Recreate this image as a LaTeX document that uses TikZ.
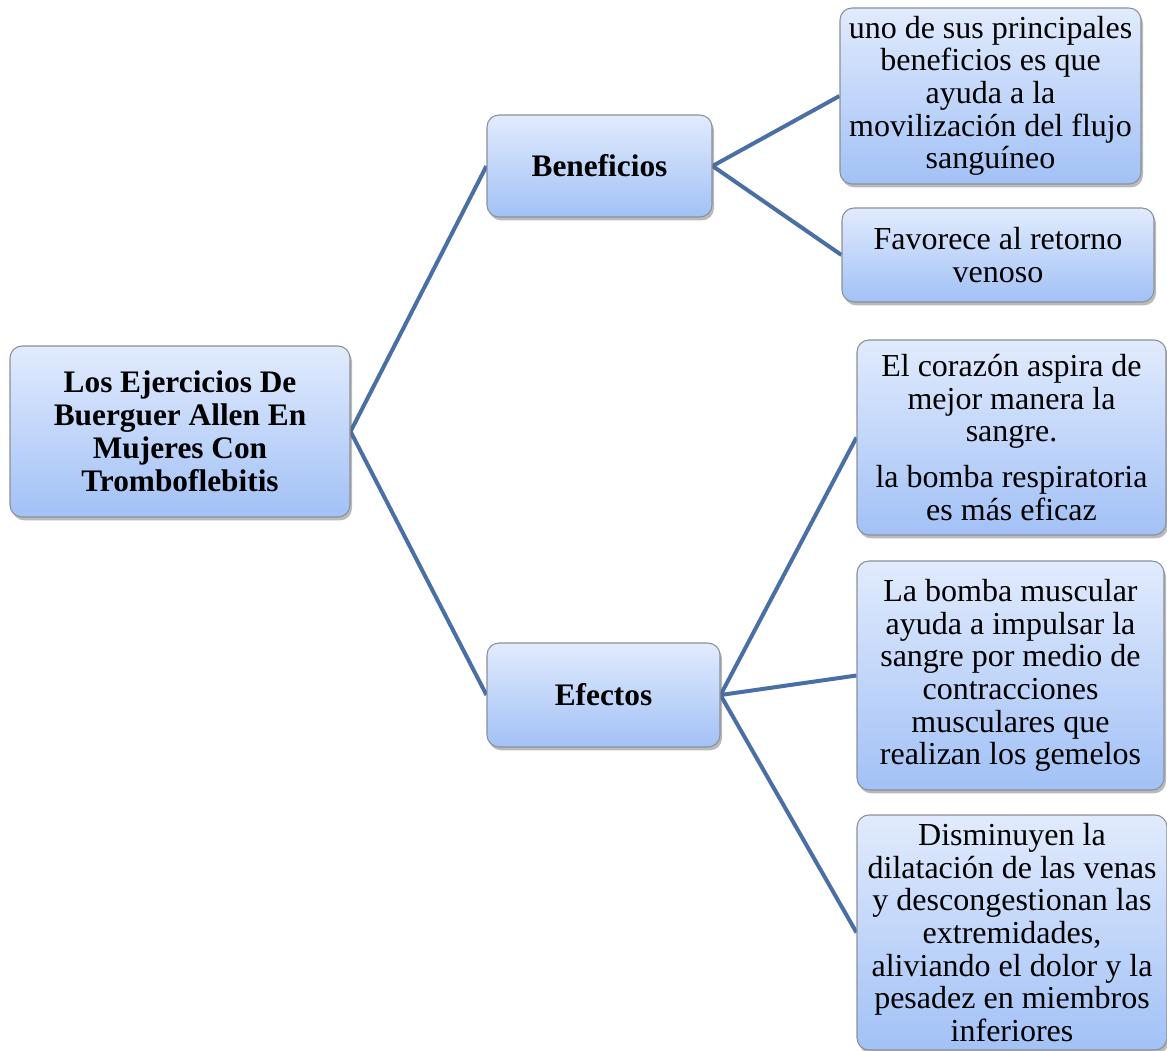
\documentclass[tikz,border=0pt]{standalone}
\usepackage{fontspec}
\setmainfont{Liberation Serif}
\usetikzlibrary{shadows,backgrounds}
\definecolor{linkblue}{HTML}{4A6FA5}
\definecolor{boxtop}{HTML}{E1EBFD}
\definecolor{boxbot}{HTML}{A2C1F6}
\definecolor{boxedge}{HTML}{8A8F99}
\tikzset{
  box/.style={draw=boxedge, line width=0.8pt, rounded corners=9pt,
    top color=boxtop, bottom color=boxbot, align=center, inner sep=2pt,
    font=\fontsize{24}{24.5}\selectfont,
    drop shadow={shadow xshift=1.5pt, shadow yshift=-2.5pt, opacity=0.45, fill=black!60}},
  bbox/.style={box, font=\fontsize{23.5}{24.75}\selectfont\bfseries},
  link/.style={draw=linkblue, line width=3pt}
}
\begin{document}
\begin{tikzpicture}[x=0.75pt, y=-0.75pt]
\useasboundingbox (0,0) rectangle (1167,1050);
\node[bbox, minimum width=255pt, minimum height=128.25pt] (root) at (180,431.5)
  {Los Ejercicios De\\Buerguer Allen En\\Mujeres Con\\Tromboflebitis};
\node[bbox, minimum width=168.75pt, minimum height=76.5pt] (ben) at (599.5,166) {Beneficios};
\node[bbox, minimum width=174.75pt, minimum height=78pt] (efe) at (603.5,695) {Efectos};
\node[box, minimum width=225.75pt, minimum height=132pt] (b1) at (990.5,96)
  {uno de sus principales\\beneficios es que\\ayuda a la\\movilización del flujo\\sanguíneo};
\node[box, minimum width=234pt, minimum height=70.5pt] (b2) at (998,255)
  {Favorece al retorno\\venoso};
\node[box, minimum width=231.75pt, minimum height=146.25pt] (e1) at (1011.5,437.5)
  {El corazón aspira de\\mejor manera la\\sangre.\\[10pt]la bomba respiratoria\\es más eficaz};
\node[box, minimum width=230.25pt, minimum height=171.75pt] (e2) at (1010.5,675.5)
  {La bomba muscular\\ayuda a impulsar la\\sangre por medio de\\contracciones\\musculares que\\realizan los gemelos};
\node[box, inner sep=0pt, minimum width=232.5pt, minimum height=176.25pt] (e3) at (1012,932.5)
  {Disminuyen la\\dilatación de las venas\\y descongestionan las\\extremidades,\\aliviando el dolor y la\\pesadez en miembros\\inferiores};
\begin{scope}[on background layer]
\draw[link] (root.east) -- (ben.west);
\draw[link] (root.east) -- (efe.west);
\draw[link] (ben.east) -- (b1.west);
\draw[link] (ben.east) -- (b2.west);
\draw[link] (efe.east) -- (e1.west);
\draw[link] (efe.east) -- (e2.west);
\draw[link] (efe.east) -- (e3.west);
\end{scope}
\end{tikzpicture}
\end{document}
